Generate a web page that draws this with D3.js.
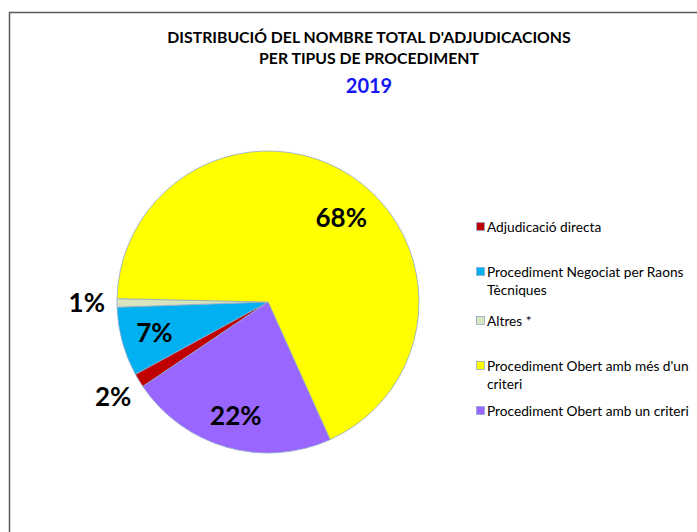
<!DOCTYPE html>
<html>
<head>
<meta charset="utf-8">
<script src="https://cdn.jsdelivr.net/npm/d3@7"></script>
<style>
  body { margin: 0; background: #fff; }
  svg { display: block; }
  text { font-family: Lato, "Open Sans", sans-serif; }
</style>
</head>
<body>
<svg width="697" height="532"></svg>
<script>
// ---------------------------------------------------------------------
// Chart data
// ---------------------------------------------------------------------
const titleLines = ["DISTRIBUCIÓ DEL NOMBRE TOTAL D'ADJUDICACIONS", "PER TIPUS DE PROCEDIMENT"];
const yearLabel  = "2019";

const categories = ["Adjudicació directa",
                    "Procediment Negociat per Raons Tècniques",
                    "Altres *",
                    "Procediment Obert amb més d'un criteri",
                    "Procediment Obert amb un criteri"];
const legendLines = [["Adjudicació directa"],
                     ["Procediment Negociat per Raons", "Tècniques"],
                     ["Altres *"],
                     ["Procediment Obert amb més d'un", "criteri"],
                     ["Procediment Obert amb un criteri"]];
const shares     = [1.5, 7.4, 0.9, 67.9, 22.3];
const pctLabels  = ["2%", "7%", "1%", "68%", "22%"];
const colors     = ["#C00000", "#00B0F0", "#D7E4BD", "#FFFF00", "#9966FF"];

// ---------------------------------------------------------------------
let svg    = d3.select("svg"),
    cx     = 268,
    cy     = 302,
    radius = 151,
    start  = 236 * Math.PI / 180;

// outer frame (only top and left edges are visible in the picture)
svg.append("rect")
  .attr("x", 9.5).attr("y", 12.5)
  .attr("width", 720).attr("height", 560)
  .attr("fill", "none")
  .attr("stroke", "#595959")
  .attr("stroke-width", 1.5);

// title
let title = svg.append("g").attr("font-weight", "bold");
title.selectAll("text.t")
  .data(titleLines)
  .enter().append("text")
    .attr("class", "t")
    .attr("x", 369)
    .attr("y", (d, i) => 43 + i * 21)
    .attr("text-anchor", "middle")
    .attr("font-size", 15.8)
    .attr("fill", "#000")
    .text(d => d);
title.append("text")
  .attr("x", 369)
  .attr("y", 93)
  .attr("text-anchor", "middle")
  .attr("font-size", 20)
  .attr("fill", "#1515F5")
  .text(yearLabel);

// pie
let pie = d3.pie()
      .sort(null)
      .startAngle(start)
      .endAngle(start + 2 * Math.PI),
    arcs = pie(shares),
    arc  = d3.arc().innerRadius(0).outerRadius(radius),
    gPie = svg.append("g").attr("transform", `translate(${cx},${cy})`);

gPie.selectAll("path")
  .data(arcs)
  .enter().append("path")
    .attr("d", arc)
    .attr("fill", (d, i) => colors[i])
    .attr("stroke", "#8FAACC")
    .attr("stroke-width", 0.8);

// labels: big slices inside, small slices outside the pie
let maxShare = d3.max(shares);
function labelPos(d) {
  let k = d.data >= 5 ? 0.78 : 1.2,
      a = d3.arc().innerRadius(radius * k).outerRadius(radius * k),
      p = a.centroid(d);
  // the largest slice's label sits a little further round, as in Excel
  if (d.data === maxShare) {
    a = d3.arc().innerRadius(radius * 0.74).outerRadius(radius * 0.74);
    p = a.centroid({startAngle: d.startAngle + 0.13, endAngle: d.endAngle + 0.13});
  }
  return p;
}

gPie.selectAll("text")
  .data(arcs)
  .enter().append("text")
    .attr("transform", d => `translate(${labelPos(d)})`)
    .attr("text-anchor", "middle")
    .attr("dy", "0.36em")
    .attr("font-size", 26)
    .attr("font-weight", "bold")
    .attr("fill", "#000")
    .text((d, i) => pctLabels[i]);

// legend
let legendY = [227, 272, 321, 366, 411],
    legend  = svg.append("g");

let items = legend.selectAll("g")
  .data(categories)
  .enter().append("g")
    .attr("transform", (d, i) => `translate(476,${legendY[i]})`);

items.append("rect")
  .attr("x", 0.5).attr("y", -4.5)
  .attr("width", 8).attr("height", 8)
  .attr("fill", (d, i) => colors[i])
  .attr("stroke", "#8FAACC")
  .attr("stroke-width", 0.8);

items.each(function(d, i) {
  d3.select(this).selectAll("text")
    .data(legendLines[i])
    .enter().append("text")
      .attr("x", 11)
      .attr("y", (t, j) => j * 18)
      .attr("dy", "0.35em")
      .attr("font-size", 13.7)
      .attr("fill", "#000")
      .text(t => t);
});
</script>
</body>
</html>
